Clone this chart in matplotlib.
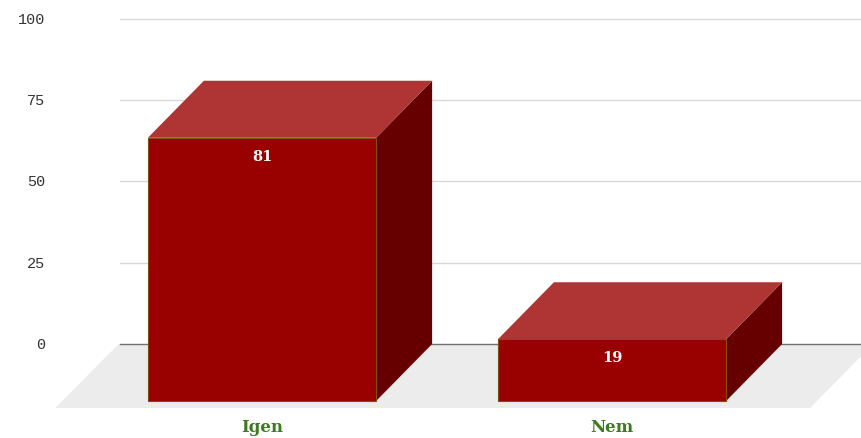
import matplotlib.pyplot as plt
from matplotlib.patches import Polygon, Rectangle

categories = ['Igen', 'Nem']
values = [81, 19]
yticks = [0, 25, 50, 75, 100]

# 3d look: back wall is shifted by (dx, dy) from the front plane
dx = 0.16
dy = 17.54
hw = 0.326

front_col = '#990000'
top_col = '#af3434'
side_col = '#660000'

fig = plt.figure(figsize=(8.62, 4.39), dpi=100)
ax = fig.add_axes([0, 0, 1, 1])
ax.set_xlim(-0.7486, 1.7143)
ax.set_ylim(-11.385, 123.69)
ax.axis('off')

# gridlines on the back wall
for t in yticks:
    col = '#707070' if t == 0 else '#d8d8d8'
    ax.plot([-0.406, 1.72], [t + dy, t + dy], color=col, lw=1, zorder=1)
    ax.text(-0.62, t + dy, str(t), ha='right', va='center', fontsize=11,
            family='Liberation Mono', color='#333333')

# floor
floor = Polygon([(-0.591, -2.15), (-0.591 + 0.182, dy), (1.566 + 0.18, dy), (1.566, -2.15)],
                closed=True, facecolor='#ececec', edgecolor='none', zorder=0)
ax.add_patch(floor)

for i, (cat, v) in enumerate(zip(categories, values)):
    x0, x1 = i - hw, i + hw
    side = Polygon([(x1, 0), (x1 + dx, dy), (x1 + dx, v + dy), (x1, v)],
                   closed=True, facecolor=side_col, edgecolor='none', zorder=3)
    top = Polygon([(x0, v), (x0 + dx, v + dy), (x1 + dx, v + dy), (x1, v)],
                  closed=True, facecolor=top_col, edgecolor='none', zorder=3)
    front = Rectangle((x0, 0), 2 * hw, v, facecolor=front_col,
                      edgecolor='#80500a', lw=0.8, zorder=4)
    ax.add_patch(side)
    ax.add_patch(top)
    ax.add_patch(front)
    ax.text(i, v - 5.5, str(v), ha='center', va='center', fontsize=10.5,
            fontweight='bold', family='DejaVu Serif', color='white', zorder=5)
    ax.text(i, -8.0, cat, ha='center', va='center', fontsize=12,
            fontweight='bold', family='DejaVu Serif', color='#3d7b22', zorder=5)

fig.savefig('out.png', dpi=100)
